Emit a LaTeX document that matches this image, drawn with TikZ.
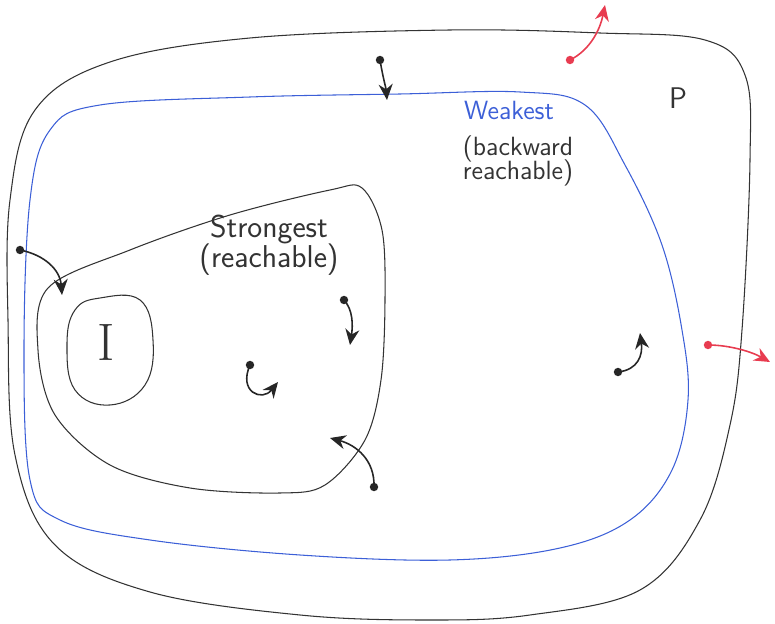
\documentclass[tikz,border=0pt]{standalone}
\usepackage{amssymb,amsmath}
\usetikzlibrary{arrows.meta}

\definecolor{weakblue}{RGB}{60,95,215}
\definecolor{escred}{RGB}{232,60,80}

\begin{document}
\begin{tikzpicture}[x=0.02cm,y=-0.02cm,
    region/.style={line width=0.6pt,black!80},
    trans/.style={line width=0.9pt,black!85,-{Stealth[length=9pt,width=8pt]}},
    txt/.style={font=\sffamily\fontsize{15}{16}\selectfont,black!80}]
  \useasboundingbox (0,0) rectangle (775,624);
  % property P, weakest and strongest invariants, initial states
  \draw[region] plot[smooth cycle,tension=0.6] coordinates {(10,200) (35,110) (110,62) (250,38) (450,30) (600,33) (705,40) (745,75) (750,160) (742,330) (730,425) (700,520) (640,590) (530,615) (430,620) (300,615) (150,592) (55,545) (15,455) (8,320)};
  \draw[weakblue,line width=0.6pt] plot[smooth cycle,tension=0.6] coordinates {(30,200) (50,130) (100,105) (250,97) (400,94) (520,92) (585,105) (625,165) (662,245) (682,330) (688,400) (672,470) (630,520) (560,548) (450,560) (300,555) (150,540) (60,520) (30,480) (24,350)};
  \draw[region] plot[smooth cycle,tension=0.55] coordinates {(48,288) (130,250) (230,215) (330,190) (362,188) (382,230) (385,300) (381,380) (365,440) (325,485) (280,493) (190,488) (110,465) (55,415) (38,350)};
  \draw[region] plot[smooth cycle,tension=0.7] coordinates {(100,298) (140,300) (153,340) (145,385) (110,405) (75,390) (67,345) (75,310)};
  \node[font=\sffamily\fontsize{17}{18}\selectfont,black!80] (P) at (678,98) {P};
  \node[font=\fontsize{30}{32}\selectfont,black!80] (I) at (106,343) {I};
  \node[txt,weakblue] (weak) at (509,110) {Weakest};
  \node[txt,align=center,inner sep=0pt] (weaknote) at (518,161) {(backward\\[-2pt] reachable)};
  \node[txt,font=\sffamily\fontsize{18}{19}\selectfont,align=center,inner sep=0pt] (strong) at (269,245) {Strongest\\[-2pt](reachable)};
  % transitions
  \foreach \n/\pa/\pb/\pc/\pd/\col in {1/{(380,60)}/{(383,78)}/{(386,88)}/{(387,100)}/black!85,
      2/{(20,250)}/{(45,255)}/{(60,270)}/{(62,295)}/black!85,
      3/{(344,300)}/{(353,310)}/{(353,325)}/{(350,345)}/black!85,
      4/{(250,365)}/{(238,392)}/{(262,402)}/{(278,382)}/black!85,
      5/{(374,487)}/{(375,460)}/{(356,445)}/{(330,438)}/black!85,
      6/{(618,372)}/{(638,370)}/{(643,355)}/{(640,333)}/black!85,
      7/{(570,60)}/{(590,50)}/{(600,30)}/{(605,5)}/escred,
      8/{(708,345)}/{(730,345)}/{(752,352)}/{(770,362)}/escred}
    {\path \pa coordinate (s\n) \pb coordinate (u\n) \pc coordinate (v\n) \pd coordinate (t\n);
     \fill[\col] (s\n) circle (2.4pt);
     \draw[trans,\col] (s\n) .. controls (u\n) and (v\n) .. (t\n);}
\end{tikzpicture}
\end{document}
